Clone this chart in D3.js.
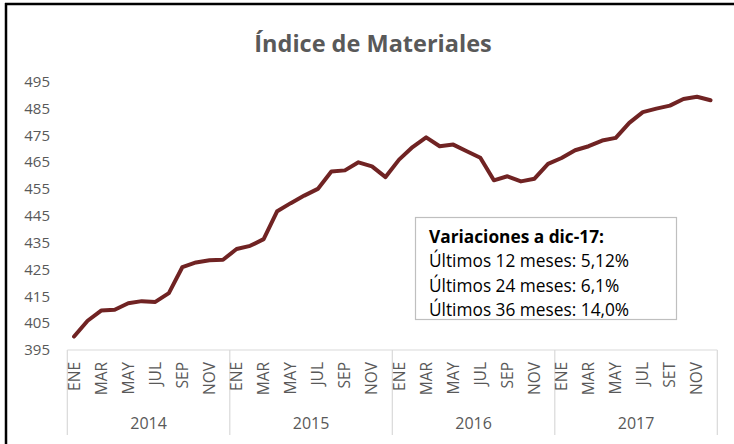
<!DOCTYPE html>
<html>
<head>
<meta charset="utf-8">
<script src="https://cdn.jsdelivr.net/npm/d3@7"></script>
<style>
  html, body { margin: 0; padding: 0; background: #fff; }
  svg { display: block; font-family: "Open Sans", sans-serif; }
</style>
</head>
<body>
<svg id="chart" width="734" height="444"></svg>
<script>
const years = ["2014", "2015", "2016", "2017"];
const monthNames2014 = ["ENE","FEB","MAR","ABR","MAY","JUN","JUL","AGO","SEP","OCT","NOV","DIC"];
const monthNames2017 = ["ENE","FEB","MAR","ABR","MAY","JUN","JUL","AGO","SET","OCT","NOV","DIC"];
const values2014 = [400.0, 405.9, 409.7, 410.0, 412.4, 413.2, 412.9, 416.2, 425.9, 427.6, 428.4, 428.6];
const values2015 = [432.6, 433.8, 436.3, 446.7, 449.7, 452.5, 455.0, 461.5, 461.9, 464.9, 463.4, 459.4];
const values2016 = [465.9, 470.6, 474.2, 470.9, 471.5, 469.0, 466.6, 458.2, 459.7, 457.8, 458.8, 464.3];
const values2017 = [466.5, 469.4, 470.9, 473.0, 474.0, 479.6, 483.6, 484.9, 486.0, 488.5, 489.3, 488.0];
const yTicks = [395, 405, 415, 425, 435, 445, 455, 465, 475, 485, 495];
const titleText = "Índice de Materiales";
const boxLines = ["Variaciones a dic-17:", "Últimos 12 meses: 5,12%", "Últimos 24 meses: 6,1%", "Últimos 36 meses: 14,0%"];

const monthNames = [monthNames2014, monthNames2014, monthNames2014, monthNames2017];
const seriesByYear = [values2014, values2015, values2016, values2017];
const data = [];
years.forEach((yr, yi) => {
  seriesByYear[yi].forEach((v, mi) => {
    data.push({ idx: data.length, year: yr, month: monthNames[yi][mi], mi: mi, value: v });
  });
});

const svg = d3.select("#chart");
const grey = "#595959";
const axisGrey = "#d9d9d9";

// frame (top and left)
svg.append("line").attr("x1", 5).attr("x2", 734).attr("y1", 4).attr("y2", 4)
  .attr("stroke", "#000").attr("stroke-width", 2.5);
svg.append("line").attr("x1", 6).attr("x2", 6).attr("y1", 3).attr("y2", 444)
  .attr("stroke", "#000").attr("stroke-width", 2.5);

// title
svg.append("text").attr("x", 373).attr("y", 52).attr("text-anchor", "middle")
  .attr("font-size", 23.5).attr("font-weight", 700).attr("fill", grey)
  .text(titleText);

const plotLeft = 67.3, plotRight = 717.3, plotBottom = 350, plotTop = 81.5;

const x = d3.scaleBand().domain(data.map(d => d.idx)).range([plotLeft, plotRight]).padding(0);
const xc = i => x(i) + x.bandwidth() / 2;
const y = d3.scaleLinear().domain([395, 495]).range([plotBottom, plotTop]);

// y axis labels
const yAxis = d3.axisLeft(y).tickValues(yTicks).tickSize(0).tickPadding(0).tickFormat(d3.format("d"));
const yg = svg.append("g").attr("transform", "translate(50,0)").call(yAxis);
yg.select(".domain").remove();
yg.selectAll("text").attr("font-size", 15).attr("fill", grey).attr("font-family", "Open Sans, sans-serif");

// x axis baseline
svg.append("line").attr("x1", plotLeft).attr("x2", plotRight).attr("y1", plotBottom).attr("y2", plotBottom)
  .attr("stroke", axisGrey).attr("stroke-width", 1.2);

// year separators
const yearScale = d3.scaleBand().domain(years).range([plotLeft, plotRight]);
const seps = [plotLeft].concat(years.map(yv => yearScale(yv) + yearScale.bandwidth()));
svg.selectAll(".sep").data(seps).enter().append("line")
  .attr("x1", d => d).attr("x2", d => d).attr("y1", plotBottom).attr("y2", 435)
  .attr("stroke", axisGrey).attr("stroke-width", 1.2);

// month labels (every other month)
const shown = data.filter(d => d.mi % 2 === 0);
svg.selectAll(".mlab").data(shown).enter().append("text")
  .attr("transform", d => `translate(${xc(d.idx) + 5.5},${plotBottom + 12}) rotate(-90)`)
  .attr("text-anchor", "end").attr("font-size", 15.5).attr("fill", grey)
  .text(d => d.month);

// year labels
svg.selectAll(".ylab").data(years).enter().append("text")
  .attr("x", d => yearScale(d) + yearScale.bandwidth() / 2).attr("y", 429)
  .attr("text-anchor", "middle").attr("font-size", 16).attr("fill", grey)
  .text(d => d);

// line
const line = d3.line().x(d => xc(d.idx)).y(d => y(d.value)).curve(d3.curveLinear);
svg.append("path").datum(data).attr("d", line)
  .attr("fill", "none").attr("stroke", "#702323").attr("stroke-width", 4)
  .attr("stroke-linejoin", "round").attr("stroke-linecap", "round");

// annotation box
svg.append("rect").attr("x", 415.5).attr("y", 217.5).attr("width", 261).attr("height", 102)
  .attr("fill", "#fff").attr("stroke", "#bfbfbf").attr("stroke-width", 1.2);
svg.selectAll(".btxt").data(boxLines).enter().append("text")
  .attr("x", 429).attr("y", (d, i) => 243 + i * 24.3)
  .attr("font-size", 17.3).attr("font-weight", (d, i) => i === 0 ? 700 : 400)
  .attr("fill", "#000").text(d => d);
</script>
</body>
</html>
